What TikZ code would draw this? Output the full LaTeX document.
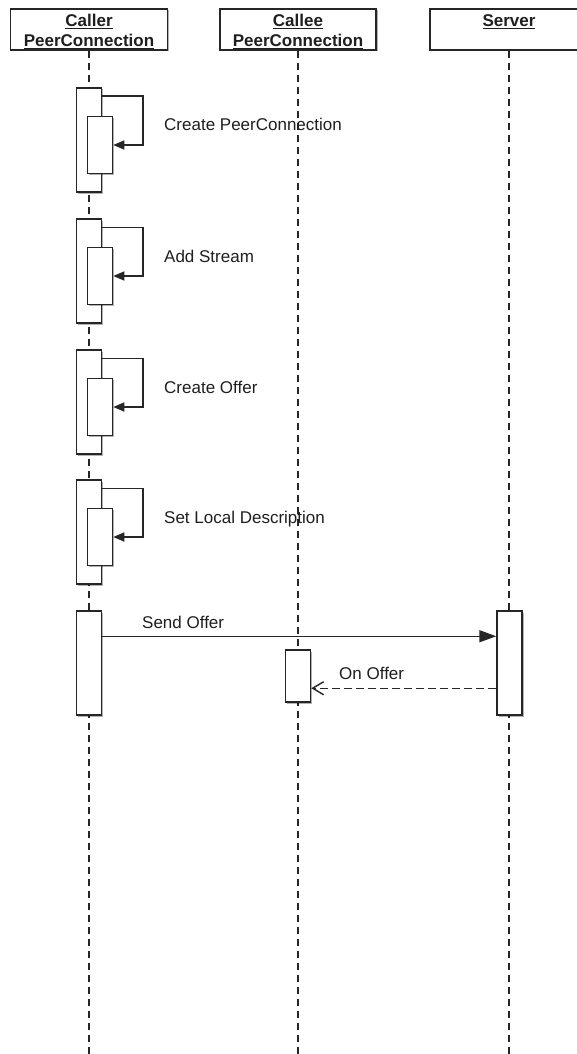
\documentclass[tikz,border=0pt]{standalone}
\usepackage{fontspec}
\setmainfont{Liberation Sans}
\usetikzlibrary{arrows.meta,shadows,calc}
\begin{document}
\begin{tikzpicture}[x=1pt,y=-1pt,
  every node/.style={font=\fontsize{17}{20}\selectfont, text=black!88},
  shadowed/.style={drop shadow={shadow xshift=1.5pt, shadow yshift=-1.5pt, opacity=0.3, fill=black}},
  head/.style={draw=black!85, line width=1.5pt, fill=white, minimum height=41pt, inner sep=0pt, shadowed},
  headtext/.style={align=center, inner sep=0pt, font=\bfseries\fontsize{17}{20}\selectfont},
  act/.style={draw=black!85, line width=1.5pt, fill=white, minimum width=25pt, inner sep=0pt, shadowed},
  lifeline/.style={draw=black!85, line width=1.4pt, dash pattern=on 7pt off 5pt},
  selfmsg/.style={draw=black!85, line width=1.5pt, -{Triangle[length=11pt,width=9pt]}},
  callmsg/.style={draw=black!85, line width=1.5pt, -{Triangle[length=17pt,width=12pt]}},
  replymsg/.style={draw=black!85, line width=1.4pt, dash pattern=on 8pt off 4pt, -{Straight Barb[length=11pt,width=13pt]}},
  lbl/.style={anchor=base west, inner sep=0pt}
]
\clip (0,0) rectangle (577,1054);
\fill[white] (0,0) rectangle (577,1054);

% headers
\node[head, minimum width=157pt] (caller) at (89,29.5) {};
\node[head, minimum width=156pt] (callee) at (298,29.5) {};
\node[head, minimum width=158pt] (server) at (509,29.5) {};
\node[headtext, anchor=base] (callerT1) at (89,27) {\underline{Caller}};
\node[headtext, anchor=base] (callerT2) at (89,47) {\underline{PeerConnection}};
\node[headtext, anchor=base] (calleeT1) at (298,27) {\underline{Callee}};
\node[headtext, anchor=base] (calleeT2) at (298,47) {\underline{PeerConnection}};
\node[headtext, anchor=base] (serverT1) at (509,27) {\underline{Server}};

% lifelines
\coordinate (callerEnd) at (89,1054);
\coordinate (calleeEnd) at (298,1054);
\coordinate (serverEnd) at (509,1054);
\draw[lifeline] (caller.south) -- (callerEnd);
\draw[lifeline] (callee.south) -- (calleeEnd);
\draw[lifeline] (server.south) -- (serverEnd);

% self calls
\foreach \t/\n/\txt in {88/a/Create PeerConnection, 219/b/Add Stream, 350/c/Create Offer, 480/d/Set Local Description}{
  \node[act, minimum height=104pt] (o\n) at (89,\t+52) {};
  \node[act, minimum height=57pt] (i\n) at (100,\t+57) {};
  \draw[selfmsg] ($(o\n.north east)+(0,9)$) -- ++(40.5,0) |- (i\n.east);
  \node[lbl] (l\n) at (164,\t+43) {\txt};
}

% send offer / on offer
\node[act, minimum height=104pt] (sendA) at (89,663) {};
\node[act, minimum height=104pt] (srvA) at (509.5,663) {};
\node[act, minimum height=52pt] (calleeA) at (298,676) {};
\draw[callmsg] ($(sendA.north east)+(0,26)$) coordinate (s0) -- (s0 -| srvA.west);
\node[lbl] (sendL) at (142,628) {Send Offer};
\draw[replymsg] ($(srvA.north west)+(0,78)$) coordinate (r0) -- (r0 -| calleeA.east);
\node[lbl] (onL) at (339,679) {On Offer};
\end{tikzpicture}
\end{document}
